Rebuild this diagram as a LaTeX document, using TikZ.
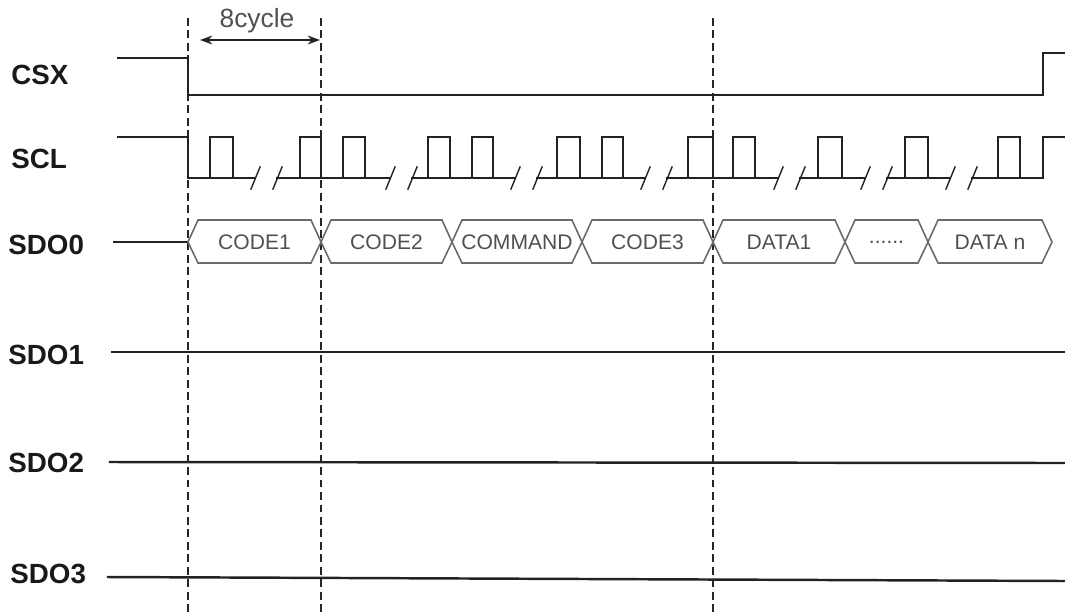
\documentclass[tikz,border=0pt]{standalone}
\usepackage{fontspec}
\setmainfont{Liberation Sans}
\usetikzlibrary{arrows.meta}

\definecolor{wave}{HTML}{222222}
\definecolor{boxgray}{HTML}{6A6A6A}
\definecolor{txtgray}{HTML}{505050}

\tikzset{
  sig/.style={draw=wave,line width=1.4pt,line cap=rect},
  guide/.style={draw=black!85,line width=1.2pt,dash pattern=on 4.5pt off 2.6pt},
  siglabel/.style={anchor=west,inner sep=0pt,font=\fontsize{15.8}{18}\selectfont\bfseries,text=black!90},
  bustext/.style={inner sep=0pt,font=\fontsize{12}{14}\selectfont,text=txtgray},
}

%% one hexagon of the data bus: left tip, right tip, name, text
\newcommand{\busbox}[4]{%
  \draw[draw=boxgray,line width=0.9pt] (#1,242) -- (#1+10,220) -- (#2-10,220)
    -- (#2,242) -- (#2-10,263) -- (#1+10,263) -- cycle;
  \node[bustext] (#3) at ({(#1+#2)/2},242) {#4};
}
\newcommand{\busdots}{......}

\begin{document}
\begin{tikzpicture}[x=0.02cm,y=-0.02cm]
        \useasboundingbox (0,0) rectangle (1065,613);

        %% The signal names
        \node[siglabel] (csx) at (11,75) {CSX};
        \node[siglabel] (scl) at (11,159) {SCL};
        \node[siglabel] (sdo0) at (8,245) {SDO0};
        \node[siglabel] (sdo1) at (8,355) {SDO1};
        \node[siglabel] (sdo2) at (8,463) {SDO2};
        \node[siglabel] (sdo3) at (10,574) {SDO3};

        %% The guide lines
        \foreach \x in {188,321,713}
        \draw[guide] (\x,18) -- (\x,613);

        %% 8 cycles
        \node[inner sep=0pt,font=\fontsize{15}{17}\selectfont,text=txtgray] (cyc) at (257,21) {8cycle};
        \draw[{Stealth[length=7pt,width=5pt]}-{Stealth[length=7pt,width=5pt]},line width=0.9pt,wave]
            (200,40) -- (320,40);

        %% CSX
        \draw[sig] (118,58) -- (188,58) -- (188,95) -- (1043,95) -- (1043,53) -- (1065,53);

        %%% SCL : low runs between the breaks
        \draw[sig] (118,137) -- (188,137) -- (188,178);
        \foreach \a/\b in {188/255,277/390,412/515,537/645,667/778,800/865,887/950,972/1043}
        \draw[sig] (\a,178) -- (\b,178);
        %%% the pulses
        \foreach \a/\b in {210/233,300/321,343/365,428/450,472/493,557/580,602/623,688/713,733/755,818/842,905/928,998/1020}
        \draw[sig] (\a,178) -- (\a,137) -- (\b,137) -- (\b,178);
        \draw[sig] (1043,178) -- (1043,137) -- (1065,137);
        %%% the breaks
        \foreach \s in {255,277,390,412,515,537,645,667,778,800,865,887,950,972}
        \draw[sig,line width=0.8pt] (\s-4,189) -- (\s+5,167);

        %% SDO0 bus
        \draw[sig] (114,242) -- (188,242);
        \foreach \l/\r/\n/\t in {188/321/codeA/CODE1,321/452/codeB/CODE2,452/582/cmd/COMMAND,
            582/713/codeC/CODE3,713/845/dataA/DATA1,845/928/dots/\busdots,928/1052/dataN/DATA n}
        \busbox{\l}{\r}{\n}{\t};

        %% SDO1 - SDO3 stay idle
        \draw[sig] (112,352) -- (1065,352);
        \draw[sig] (110,462) -- (1065,463);
        \draw[sig] (108,577) -- (1065,581);
\end{tikzpicture}
\end{document}
